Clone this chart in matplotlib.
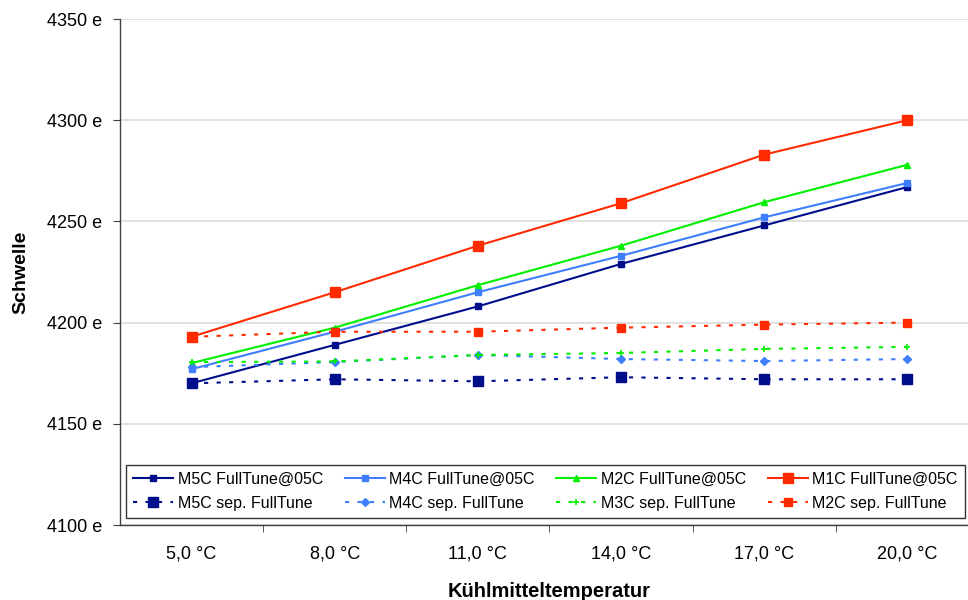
import matplotlib
matplotlib.use("Agg")
import matplotlib.pyplot as plt
from matplotlib.ticker import FixedLocator, FuncFormatter

plt.rcParams['font.family'] = ['Liberation Sans', 'DejaVu Sans']

categories = ["5,0 °C", "8,0 °C", "11,0 °C", "14,0 °C", "17,0 °C", "20,0 °C"]

m5c_full = [4170, 4189, 4208, 4229, 4248, 4267]
m4c_full = [4177, 4195.5, 4215, 4233, 4252, 4269]
m2c_full = [4180, 4197.5, 4218.5, 4238, 4259.5, 4278]
m1c_full = [4193, 4215, 4238, 4259, 4283, 4300]

m5c_sep = [4170, 4172, 4171, 4173, 4172, 4172]
m4c_sep = [4178, 4180.5, 4184, 4182, 4181, 4182]
m3c_sep = [4180.5, 4180.8, 4184, 4185, 4187, 4188]
m2c_sep = [4193, 4195.5, 4195.5, 4197.5, 4199, 4200]

labels = ["M5C FullTune@05C", "M4C FullTune@05C", "M2C FullTune@05C", "M1C FullTune@05C",
          "M5C sep. FullTune", "M4C sep. FullTune", "M3C sep. FullTune", "M2C sep. FullTune"]

navy = '#000E8C'
blue = '#3F7FFF'
green = '#00F000'
red = '#FF2A00'

fig = plt.figure(figsize=(9.68, 6.0), dpi=100)
W, H = 968, 600
ax = fig.add_axes([120 / W, 75 / H, (979 - 120) / W, (525 - 19) / H])

x = list(range(len(categories)))
dash = (0, (2, 4))
h = []
h += ax.plot(x, m5c_full, color=navy, lw=1.5, marker='s', ms=4.5)
h += ax.plot(x, m4c_full, color=blue, lw=1.5, marker='s', ms=4.5)
h += ax.plot(x, m2c_full, color=green, lw=1.5, marker='^', ms=5)
h += ax.plot(x, m1c_full, color=red, lw=1.5, marker='s', ms=7)
h += ax.plot(x, m5c_sep, color=navy, lw=1.5, ls=dash, marker='s', ms=7)
h += ax.plot(x, m4c_sep, color=blue, lw=1.5, ls=dash, marker='D', ms=4)
h += ax.plot(x, m3c_sep, color=green, lw=1.5, ls=dash, marker='+', ms=5, mew=1.2)
h += ax.plot(x, m2c_sep, color=red, lw=1.5, ls=dash, marker='s', ms=5.5)

ax.set_xlim(-0.5, 5.5)
ax.set_ylim(4100, 4350)
ax.set_yticks([4100, 4150, 4200, 4250, 4300, 4350])
ax.yaxis.set_major_formatter(FuncFormatter(lambda v, p: f"{int(v)} e"))
ax.set_xticks(x)
ax.set_xticklabels(categories)
ax.xaxis.set_minor_locator(FixedLocator([0.5, 1.5, 2.5, 3.5, 4.5]))
ax.tick_params(axis='x', which='major', length=0, pad=15, labelsize=13, colors='black')
ax.tick_params(axis='x', which='minor', length=5, direction='out', color='#404040')
ax.tick_params(axis='y', length=5, direction='out', color='#404040', labelsize=13, pad=8)

ax.grid(axis='y', color='#DCDCDC', lw=1.2)
ax.set_axisbelow(True)
for s in ['top', 'right']:
    ax.spines[s].set_visible(False)
for s in ['left', 'bottom']:
    ax.spines[s].set_color('#404040')
    ax.spines[s].set_linewidth(1)

ax.set_xlabel("Kühlmitteltemperatur", fontsize=14.5, fontweight='bold')
ax.set_ylabel("Schwelle", fontsize=14, fontweight='bold')
ax.xaxis.set_label_coords(0.5, -0.112)
ax.yaxis.set_label_coords(-91 / 859, 0.5)

order = [0, 4, 1, 5, 2, 6, 3, 7]
leg = fig.legend([h[i] for i in order], [labels[i] for i in order], ncol=4, loc='lower left',
                 bbox_to_anchor=(126 / W, (600 - 518) / H, (965 - 126) / W, 57 / H),
                 mode='expand', borderaxespad=0, fontsize=11.5, frameon=True, fancybox=False,
                 edgecolor='black', handlelength=2.5, handletextpad=0.3,
                 borderpad=0.45, labelspacing=0.55, columnspacing=1.0)
leg.get_frame().set_linewidth(1.0)

fig.savefig("out.png", dpi=100)
